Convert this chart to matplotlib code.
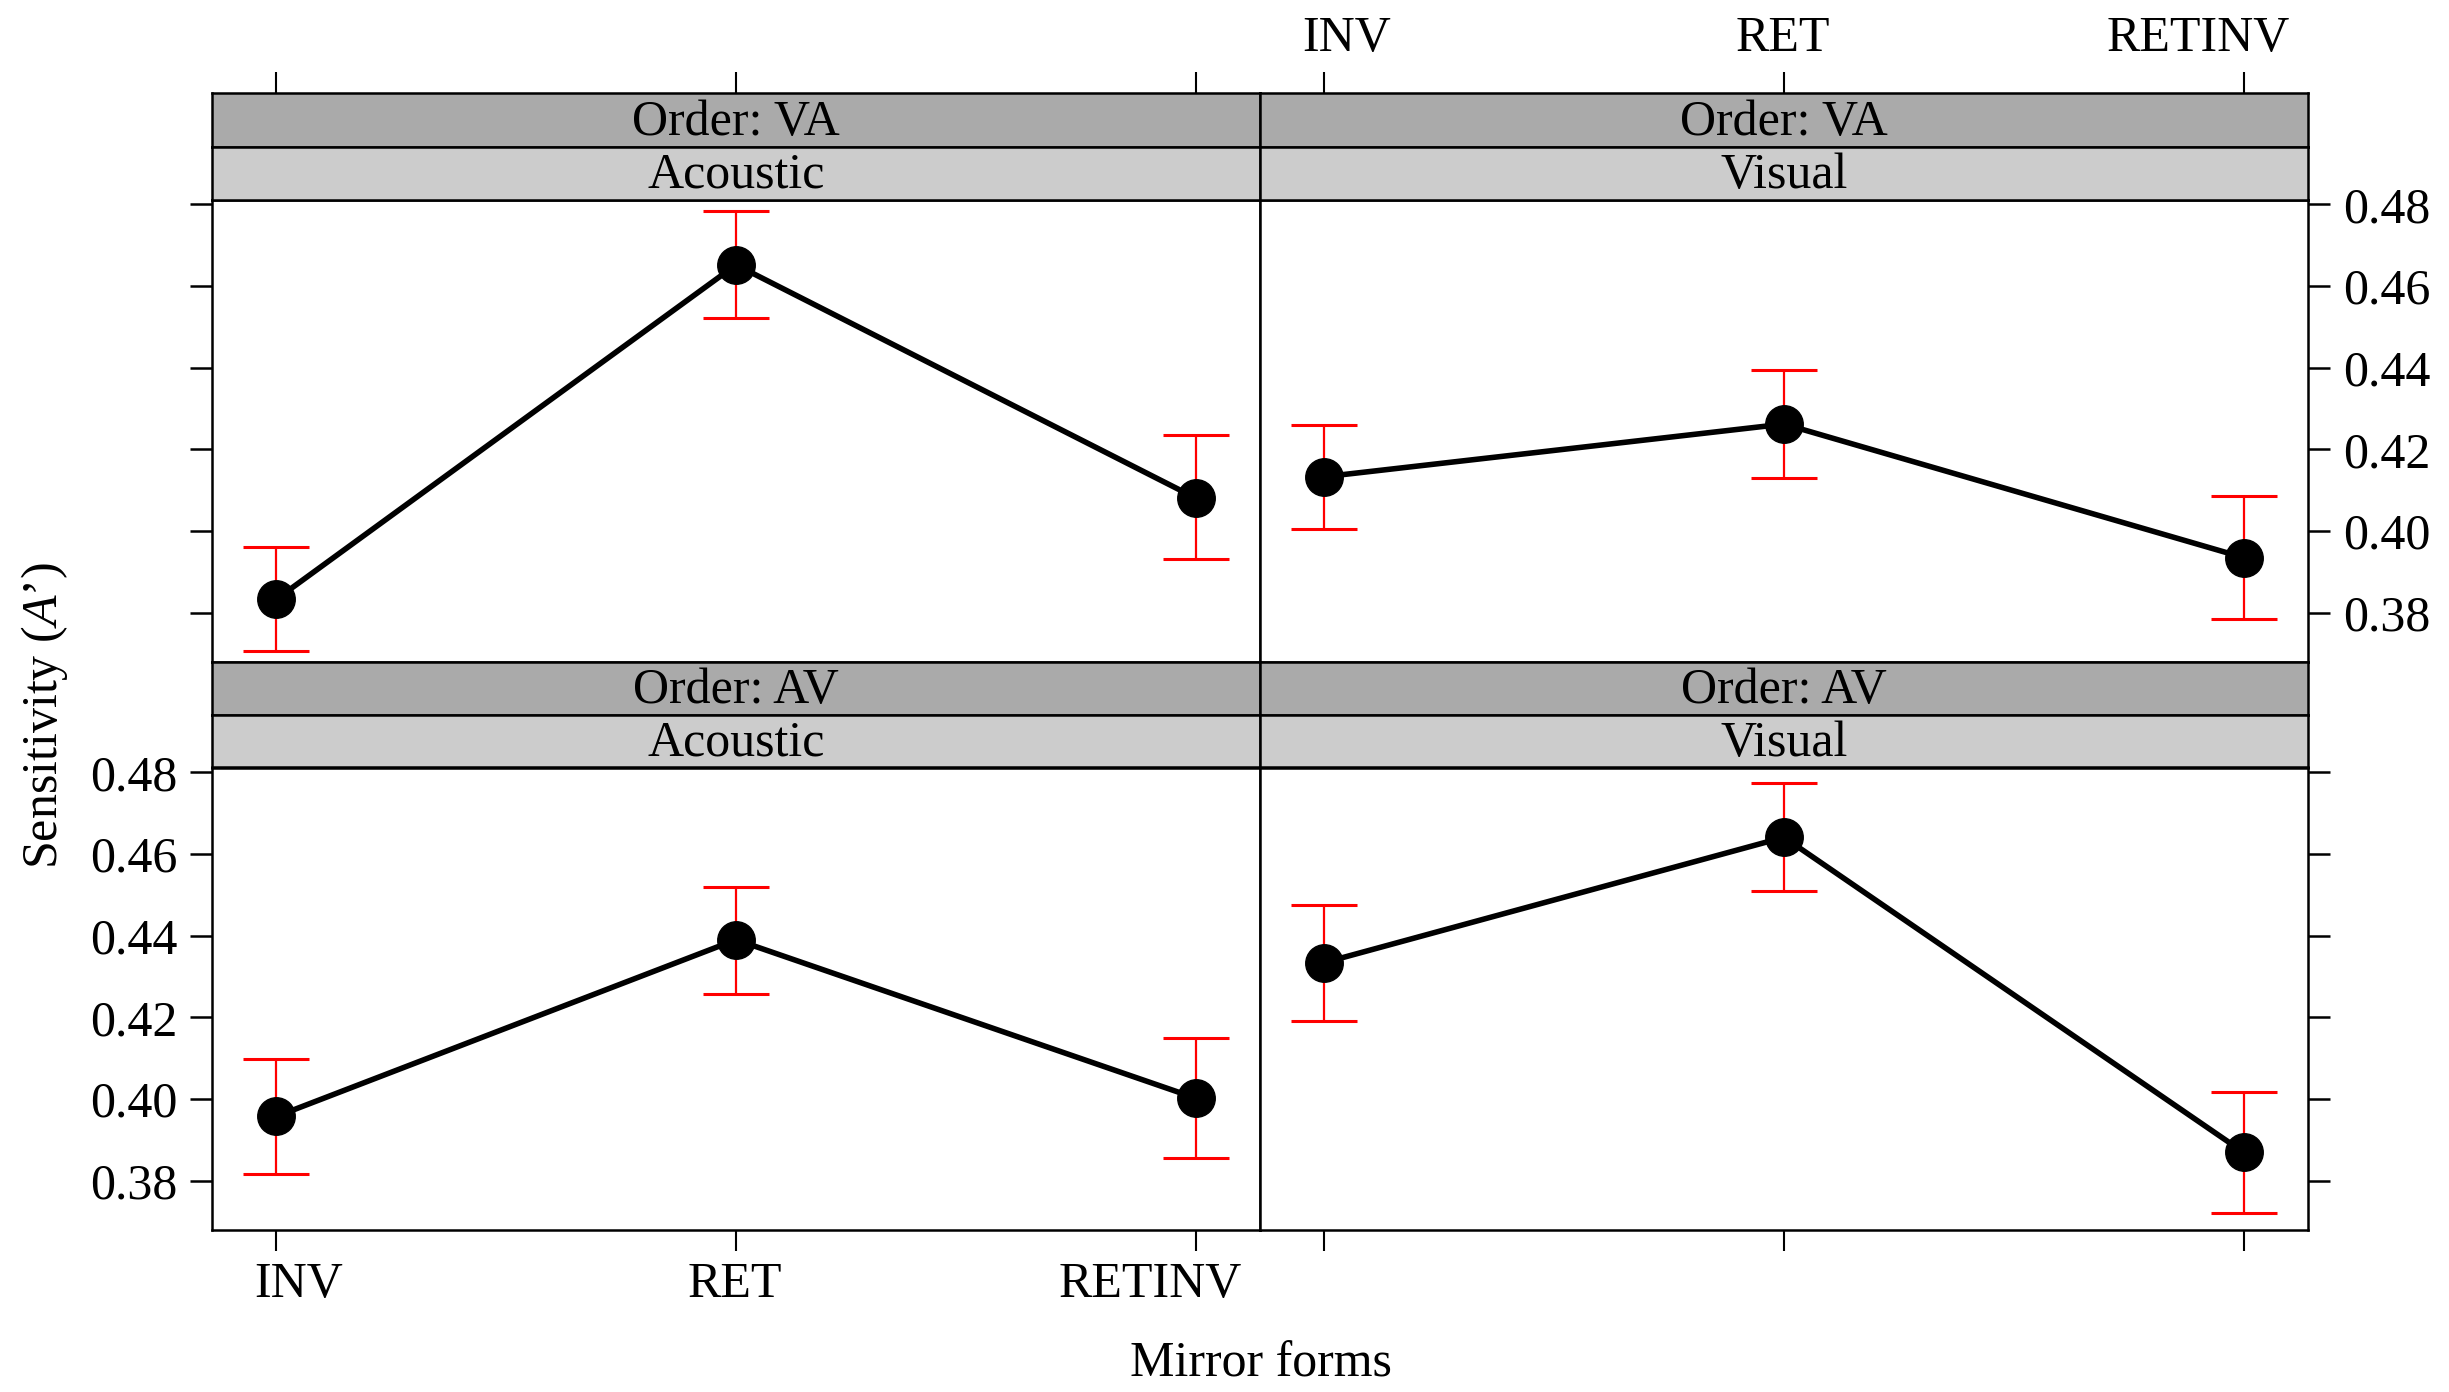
import matplotlib.pyplot as plt
from matplotlib.transforms import ScaledTranslation

plt.rcParams["font.family"] = "Liberation Serif"
plt.rcParams["mathtext.fontset"] = "custom"
plt.rcParams["mathtext.rm"] = "Liberation Serif"
plt.rcParams["mathtext.it"] = "Liberation Serif:italic"

# data
mirror_forms = ["INV", "RET", "RETINV"]
x_pos = [1, 2, 3]

va_acoustic_mean = [0.3833, 0.4652, 0.4081]
va_acoustic_low = [0.3706, 0.4521, 0.3931]
va_acoustic_high = [0.3960, 0.4785, 0.4234]

va_visual_mean = [0.4133, 0.4262, 0.3935]
va_visual_low = [0.4005, 0.4130, 0.3784]
va_visual_high = [0.4260, 0.4394, 0.4086]

av_acoustic_mean = [0.3957, 0.4390, 0.4002]
av_acoustic_low = [0.3815, 0.4257, 0.3854]
av_acoustic_high = [0.4098, 0.4520, 0.4148]

av_visual_mean = [0.4334, 0.4641, 0.3869]
av_visual_low = [0.4191, 0.4510, 0.3720]
av_visual_high = [0.4476, 0.4773, 0.4018]

y_ticks = [0.38, 0.40, 0.42, 0.44, 0.46, 0.48]

W, H = 2449, 1392
FS = 36
# lattice nudges the outer labels inward (pixels)
label_shift = [22, -1, -45]


def box(x0, y0, x1, y1):
    # pixel box (top-left origin) -> figure fraction rect
    return [x0 / W, 1 - y1 / H, (x1 - x0) / W, (y1 - y0) / H]


def nudge(labels):
    for lab, dx in zip(labels, label_shift):
        lab.set_transform(lab.get_transform()
                          + ScaledTranslation(dx / 100, 0, fig.dpi_scale_trans))


fig = plt.figure(figsize=(W / 100, H / 100), dpi=100)

col_x = [(212, 1260), (1260, 2308)]
row_y = [(93, 146.5, 199.5, 661.7), (661.7, 714.6, 767.5, 1229.5)]

panels = [
    (0, 0, "VA", "Acoustic", va_acoustic_mean, va_acoustic_low, va_acoustic_high),
    (0, 1, "VA", "Visual", va_visual_mean, va_visual_low, va_visual_high),
    (1, 0, "AV", "Acoustic", av_acoustic_mean, av_acoustic_low, av_acoustic_high),
    (1, 1, "AV", "Visual", av_visual_mean, av_visual_low, av_visual_high),
]

for row, col, order, modality, mean, low, high in panels:
    x0, x1 = col_x[col]
    s0, s1, p0, p1 = row_y[row]

    ax = fig.add_axes(box(x0, p0, x1, p1))
    err_lo = [m - l for m, l in zip(mean, low)]
    err_hi = [h - m for m, h in zip(mean, high)]
    ax.errorbar(x_pos, mean, yerr=[err_lo, err_hi], fmt="none", ecolor="red",
                elinewidth=1.6, capsize=24, capthick=2.2, zorder=2)
    ax.plot(x_pos, mean, color="black", lw=4, marker="o", markersize=27,
            zorder=3)
    ax.set_xlim(0.86, 3.14)
    ax.set_ylim(0.368, 0.4812)
    for sp in ax.spines.values():
        sp.set_linewidth(1.8)

    ax.set_yticks(y_ticks)
    ax.set_yticklabels(["%.2f" % v for v in y_ticks])
    ax.tick_params(axis="y", direction="out", length=16, width=1.8,
                   labelsize=FS, pad=9)
    if col == 0:
        ax.tick_params(axis="y", left=True, right=False, labelleft=(row == 1),
                       labelright=False)
    else:
        ax.tick_params(axis="y", left=False, right=True, labelleft=False,
                       labelright=(row == 0))

    ax.set_xticks(x_pos)
    ax.set_xticklabels(mirror_forms)
    ax.tick_params(axis="x", direction="out", length=15, width=1.5,
                   labelsize=FS, pad=8)
    if row == 1:
        ax.tick_params(axis="x", bottom=True, top=False,
                       labelbottom=(col == 0), labeltop=False)
        nudge(ax.get_xticklabels())
    else:
        ax.tick_params(axis="x", bottom=False, top=False,
                       labelbottom=False, labeltop=False)

    # strips
    for (a, b), label, color in [((s0, s1), "Order: " + order, "#AAAAAA"),
                                 ((s1, p0), modality, "#CCCCCC")]:
        st = fig.add_axes(box(x0, a, x1, b))
        st.set_facecolor(color)
        st.set_xlim(0.86, 3.14)
        st.set_yticks([])
        for sp in st.spines.values():
            sp.set_linewidth(1.8)
        st.text(0.5, 0.45, label, transform=st.transAxes, ha="center",
                va="center", fontsize=FS)
        if row == 0 and a == s0:
            st.set_xticks(x_pos)
            st.set_xticklabels(mirror_forms)
            st.tick_params(axis="x", direction="out", length=15, width=1.5,
                           labelsize=FS, pad=7, bottom=False, top=True,
                           labelbottom=False, labeltop=(col == 1))
            nudge([t.label2 for t in st.xaxis.get_major_ticks()])
        else:
            st.set_xticks([])

fig.text(0.018, 0.486, "Sensitivity ($\\mathit{A}$\u2019)", rotation=90,
         ha="center", va="center", fontsize=FS)
fig.text(0.5147, 0.020, "Mirror forms", ha="center", va="center", fontsize=FS)

fig.savefig("out.png", dpi=100)
